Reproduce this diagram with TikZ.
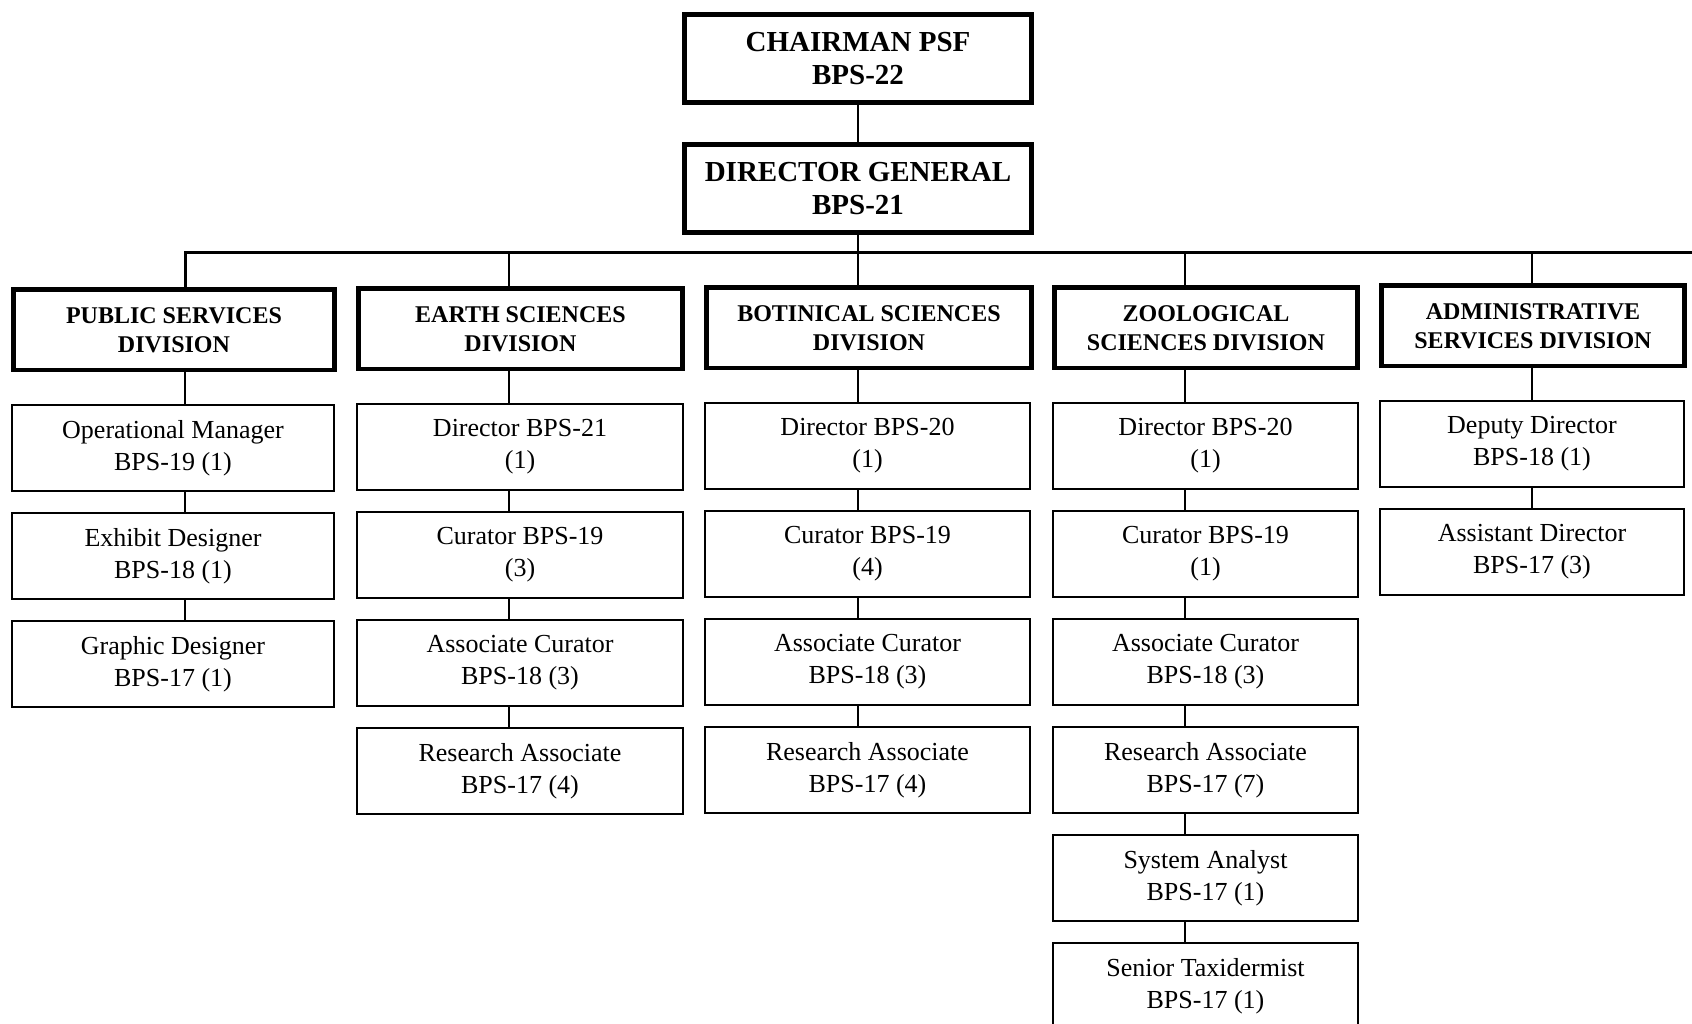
\documentclass[tikz,border=0pt]{standalone}
\usepackage{fontspec}
\setmainfont{Liberation Serif}
\begin{document}
\begin{tikzpicture}[x=1pt,y=-1pt,
  topbox/.style={draw, line width=5pt, inner sep=0pt, align=center, font=\fontsize{29}{33}\selectfont\bfseries, minimum width=347pt, minimum height=88pt, anchor=north},
  divbox/.style={draw, line width=4.5pt, inner sep=0pt, align=center, font=\fontsize{24}{29}\selectfont\bfseries, minimum height=80pt, anchor=north},
  subbox/.style={draw, line width=2.2pt, inner sep=0pt, align=center, font=\fontsize{26}{32}\selectfont, minimum height=86pt, anchor=north},
  conn/.style={line width=2.4pt},
  busline/.style={line width=3pt},
]
\useasboundingbox (0,0) rectangle (1692,1024);
\clip (0,0) rectangle (1692,1024);

% top
\node[topbox] (ch) at (858,12.5) {CHAIRMAN PSF\\BPS-22};
\node[topbox] (dg) at (858,142.5) {DIRECTOR GENERAL\\BPS-21};

% column lines
\coordinate (lxP) at (185,0);
\coordinate (lxE) at (509,0);
\coordinate (lxB) at (858,0);
\coordinate (lxZ) at (1185,0);
\coordinate (lxA) at (1532,0);
\coordinate (busL) at (185,253);
\coordinate (busR) at (1692,253);

% divisions
\node[divbox, minimum width=321pt] (pub) at (174,287.5) {PUBLIC SERVICES\\DIVISION};
\node[divbox, minimum width=324pt] (ear) at (520.5,286.5) {EARTH SCIENCES\\DIVISION};
\node[divbox, minimum width=325pt] (bot) at (869,285.5) {BOTINICAL SCIENCES\\DIVISION};
\node[divbox, minimum width=303pt] (zoo) at (1206,285.5) {ZOOLOGICAL\\SCIENCES DIVISION};
\node[divbox, minimum width=303pt] (adm) at (1533,283.5) {ADMINISTRATIVE\\SERVICES DIVISION};

% public
\node[subbox, minimum width=322pt] (p1) at (173,404) {Operational Manager\\BPS-19 (1)};
\node[subbox, minimum width=322pt] (p2) at (173,512) {Exhibit Designer\\BPS-18 (1)};
\node[subbox, minimum width=322pt] (p3) at (173,620) {Graphic Designer\\BPS-17 (1)};

% earth
\node[subbox, minimum width=326pt] (e1) at (520,403) {Director BPS-21\\(1)};
\node[subbox, minimum width=326pt] (e2) at (520,511) {Curator BPS-19\\(3)};
\node[subbox, minimum width=326pt] (e3) at (520,619) {Associate Curator\\BPS-18 (3)};
\node[subbox, minimum width=326pt] (e4) at (520,727) {Research Associate\\BPS-17 (4)};

% botanical
\node[subbox, minimum width=325pt] (b1) at (867.5,402) {Director BPS-20\\(1)};
\node[subbox, minimum width=325pt] (b2) at (867.5,510) {Curator BPS-19\\(4)};
\node[subbox, minimum width=325pt] (b3) at (867.5,618) {Associate Curator\\BPS-18 (3)};
\node[subbox, minimum width=325pt] (b4) at (867.5,726) {Research Associate\\BPS-17 (4)};

% zoological
\node[subbox, minimum width=305pt] (z1) at (1205.5,402) {Director BPS-20\\(1)};
\node[subbox, minimum width=305pt] (z2) at (1205.5,510) {Curator BPS-19\\(1)};
\node[subbox, minimum width=305pt] (z3) at (1205.5,618) {Associate Curator\\BPS-18 (3)};
\node[subbox, minimum width=305pt] (z4) at (1205.5,726) {Research Associate\\BPS-17 (7)};
\node[subbox, minimum width=305pt] (z5) at (1205.5,834) {System Analyst\\BPS-17 (1)};
\node[subbox, minimum width=305pt] (z6) at (1205.5,942) {Senior Taxidermist\\BPS-17 (1)};

% admin
\node[subbox, minimum width=304pt] (a1) at (1532,400) {Deputy Director\\BPS-18 (1)};
\node[subbox, minimum width=304pt] (a2) at (1532,508) {Assistant Director\\BPS-17 (3)};

% connectors top
\draw[conn] (ch.south) -- (dg.north);
\draw[conn] (dg.south) -- (dg.south |- busL);
\draw[busline] (pub.north -| lxP) |- (busR);
\draw[conn] (ear.north -| lxE) -- (lxE |- busL);
\draw[conn] (bot.north -| lxB) -- (lxB |- busL);
\draw[conn] (zoo.north -| lxZ) -- (lxZ |- busL);
\draw[conn] (adm.north -| lxA) -- (lxA |- busL);

% column connectors
\draw[conn] (pub.south -| lxP) -- (p1.north -| lxP);
\draw[conn] (p1.south -| lxP) -- (p2.north -| lxP);
\draw[conn] (p2.south -| lxP) -- (p3.north -| lxP);

\draw[conn] (ear.south -| lxE) -- (e1.north -| lxE);
\draw[conn] (e1.south -| lxE) -- (e2.north -| lxE);
\draw[conn] (e2.south -| lxE) -- (e3.north -| lxE);
\draw[conn] (e3.south -| lxE) -- (e4.north -| lxE);

\draw[conn] (bot.south -| lxB) -- (b1.north -| lxB);
\draw[conn] (b1.south -| lxB) -- (b2.north -| lxB);
\draw[conn] (b2.south -| lxB) -- (b3.north -| lxB);
\draw[conn] (b3.south -| lxB) -- (b4.north -| lxB);

\draw[conn] (zoo.south -| lxZ) -- (z1.north -| lxZ);
\draw[conn] (z1.south -| lxZ) -- (z2.north -| lxZ);
\draw[conn] (z2.south -| lxZ) -- (z3.north -| lxZ);
\draw[conn] (z3.south -| lxZ) -- (z4.north -| lxZ);
\draw[conn] (z4.south -| lxZ) -- (z5.north -| lxZ);
\draw[conn] (z5.south -| lxZ) -- (z6.north -| lxZ);

\draw[conn] (adm.south -| lxA) -- (a1.north -| lxA);
\draw[conn] (a1.south -| lxA) -- (a2.north -| lxA);
\end{tikzpicture}
\end{document}
